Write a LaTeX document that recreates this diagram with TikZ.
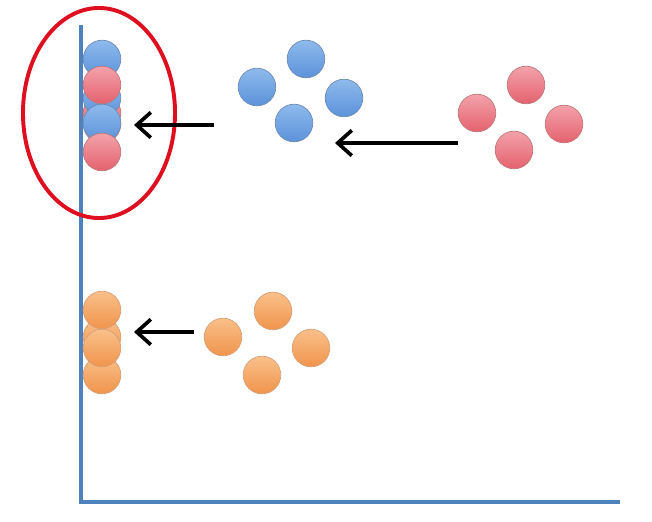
\documentclass[tikz,border=0pt]{standalone}
\usetikzlibrary{arrows.meta, shapes.geometric}
\definecolor{axisblue}{RGB}{79,129,189}
\definecolor{ringred}{RGB}{222,16,32}
\definecolor{bluetop}{RGB}{142,186,236}
\definecolor{bluebot}{RGB}{92,146,218}
\definecolor{blueedge}{RGB}{110,140,180}
\definecolor{redtop}{RGB}{243,162,170}
\definecolor{redbot}{RGB}{228,98,110}
\definecolor{rededge}{RGB}{190,120,125}
\definecolor{orangetop}{RGB}{249,192,138}
\definecolor{orangebot}{RGB}{240,148,76}
\definecolor{orangeedge}{RGB}{215,160,120}
\begin{document}
\begin{tikzpicture}[x=0.025cm, y=-0.025cm,
    dot/.style={circle, minimum size=0.94cm, inner sep=0pt, line width=0.5pt},
    bluedot/.style={dot, top color=bluetop, bottom color=bluebot, draw=blueedge},
    reddot/.style={dot, top color=redtop, bottom color=redbot, draw=rededge},
    orangedot/.style={dot, top color=orangetop, bottom color=orangebot, draw=orangeedge},
    move/.style={-{Straight Barb[length=10pt, width=18pt, line width=2.6pt]}, line width=2.4pt}]
        \useasboundingbox (0,0) rectangle (652,521);

        % Axes
        \coordinate (top) at (81,25);
        \coordinate (origin) at (81,502);
        \coordinate (right) at (620,502);
        \draw[axisblue, line width=2.2pt] (top) -- (origin) -- (right);

        % Projected points on the axis (blue and red overlap)
        \node[reddot] (pr3) at (102,113) {};
        \node[reddot] (pr4) at (102,124) {};
        \node[bluedot] (pb1) at (102,59) {};
        \node[bluedot] (pb3) at (102,98) {};
        \node[reddot] (pr1) at (102,85) {};
        \node[bluedot] (pb4) at (102,123) {};
        \node[reddot] (pr2) at (102,152) {};

        % Projected orange points
        \node[orangedot] (po2) at (102,337) {};
        \node[orangedot] (po4) at (102,375) {};
        \node[orangedot] (po1) at (102,310) {};
        \node[orangedot] (po3) at (102,348) {};

        % Red ring round the mixed projection
        \node[draw=ringred, line width=2.8pt, ellipse, inner sep=0pt, minimum width=3.8cm, minimum height=5.25cm] (ring) at (99,113) {};

        % Blue cluster
        \node[bluedot] (b1) at (306,59) {};
        \node[bluedot] (b2) at (257,87) {};
        \node[bluedot] (b3) at (344,98) {};
        \node[bluedot] (b4) at (294,123) {};

        % Red cluster
        \node[reddot] (r1) at (526,85) {};
        \node[reddot] (r2) at (477,113) {};
        \node[reddot] (r3) at (564,124) {};
        \node[reddot] (r4) at (514,150) {};

        % Orange cluster
        \node[orangedot] (o1) at (273,311) {};
        \node[orangedot] (o2) at (223,337) {};
        \node[orangedot] (o3) at (311,348) {};
        \node[orangedot] (o4) at (262,375) {};

        % Projection arrows
        \coordinate (redfrom) at (458,143);
        \coordinate (redto) at (335,143);
        \coordinate (bluefrom) at (214,125);
        \coordinate (blueto) at (134,125);
        \coordinate (orangefrom) at (194,332);
        \coordinate (orangeto) at (134,332);
        \draw[move] (redfrom) -- (redto);
        \draw[move] (bluefrom) -- (blueto);
        \draw[move] (orangefrom) -- (orangeto);
    \end{tikzpicture}
\end{document}
